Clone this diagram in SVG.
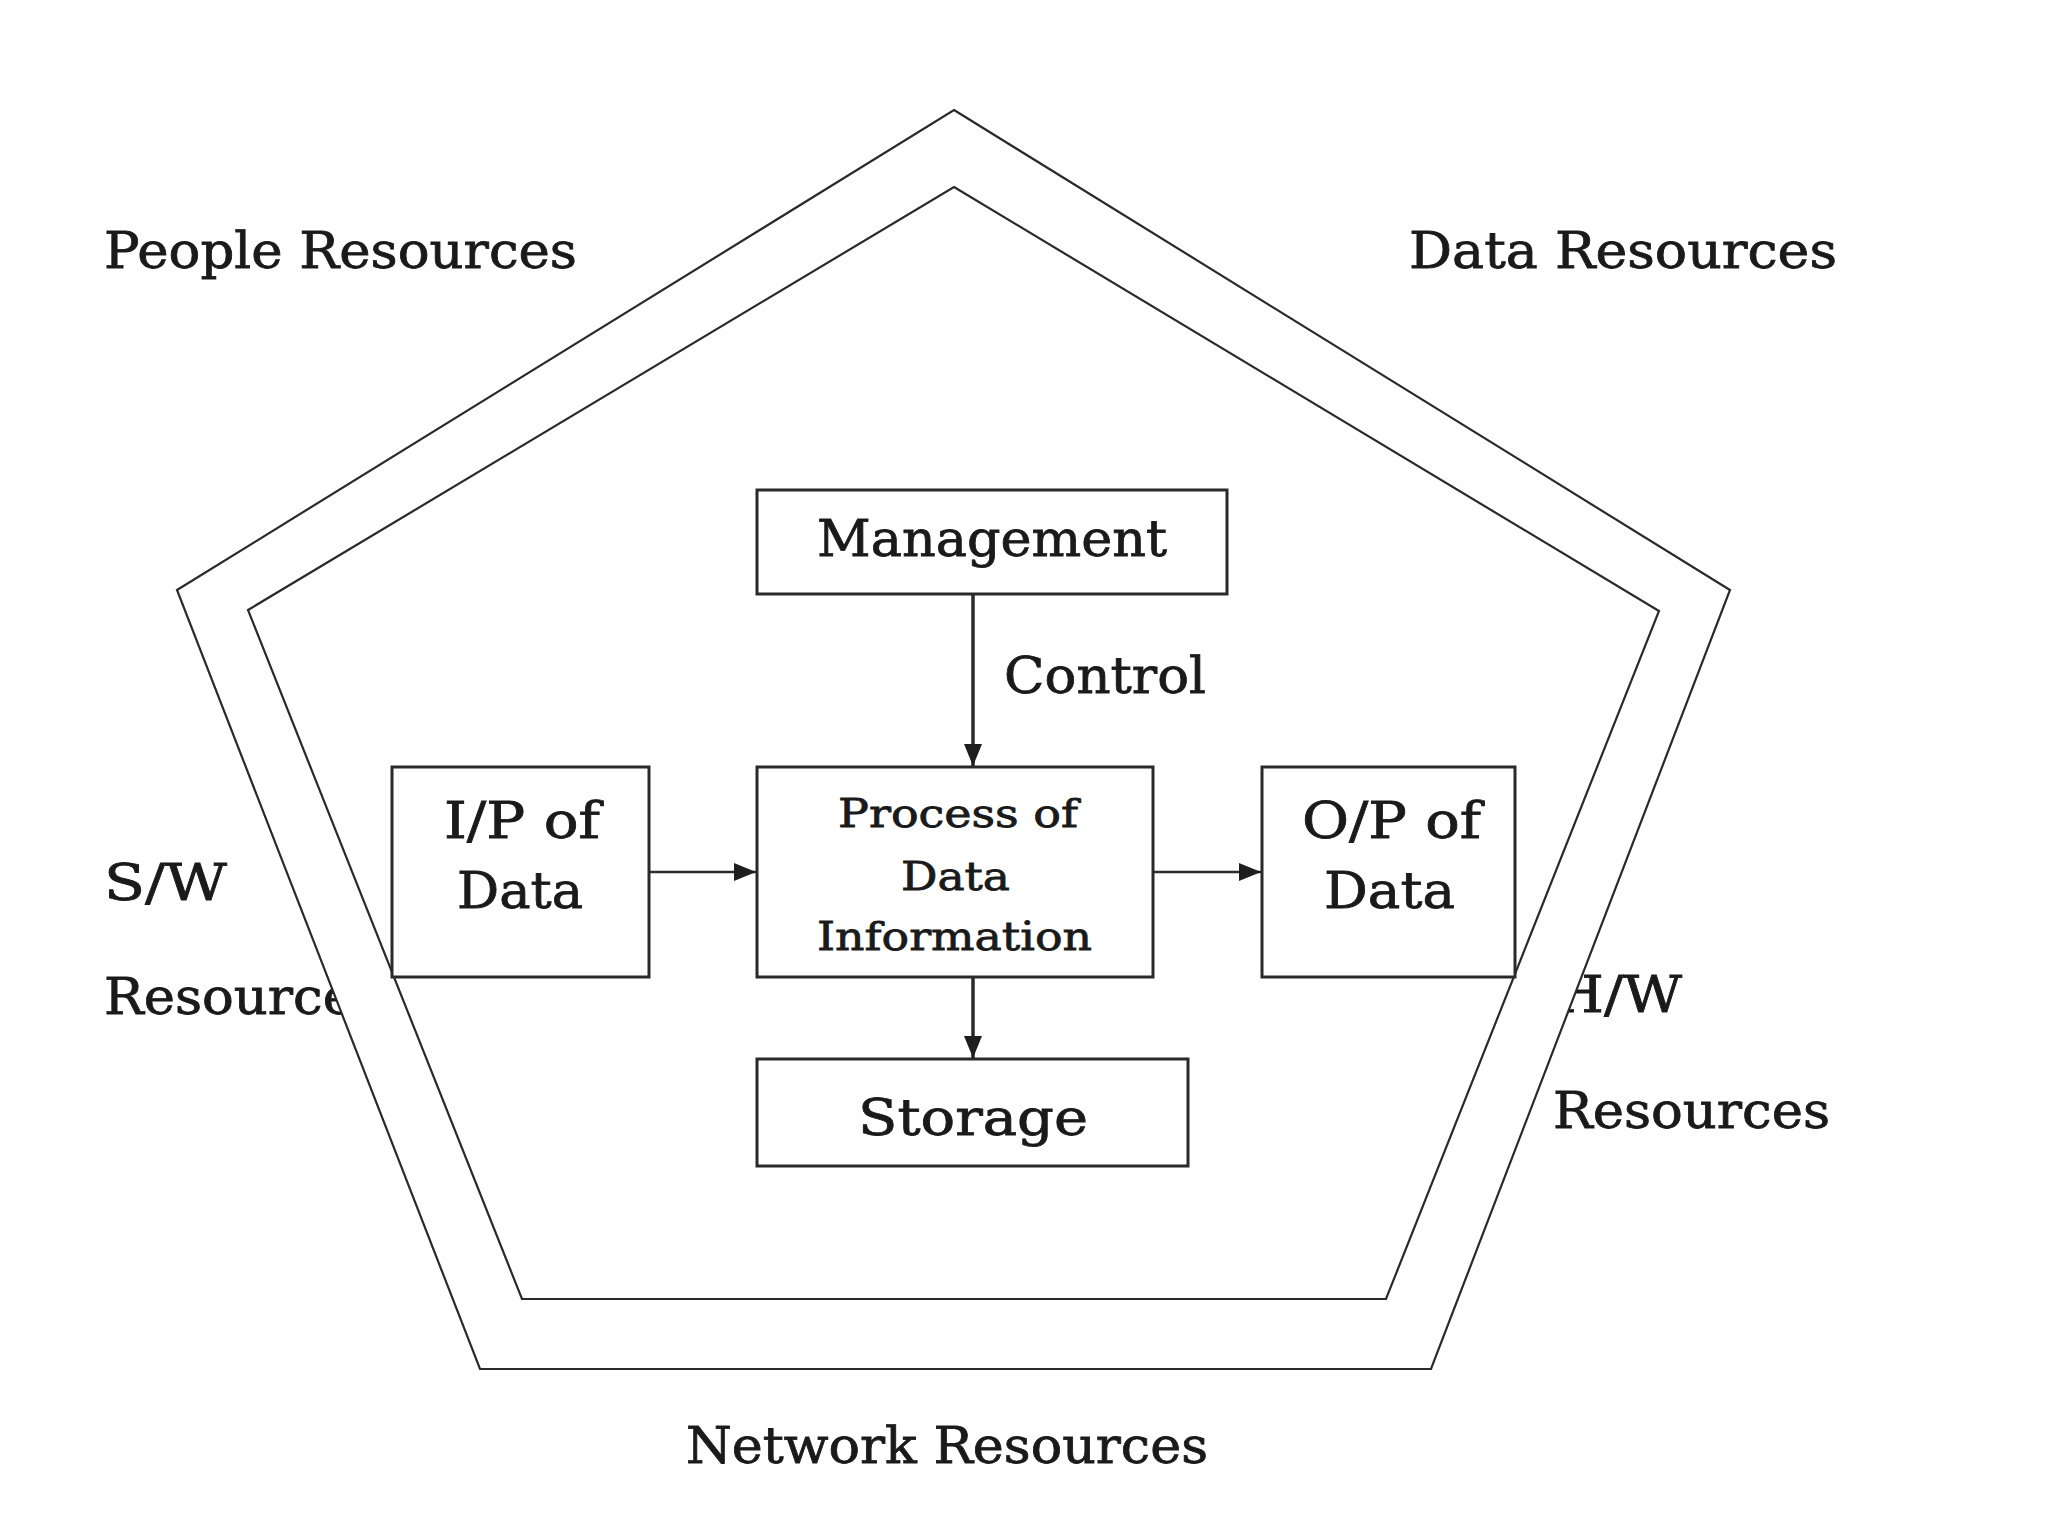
<svg xmlns="http://www.w3.org/2000/svg" width="2048" height="1536" viewBox="0 0 2048 1536">
<style>
text{font-family:"DejaVu Serif","Liberation Serif",serif;fill:#1a1a1a;stroke:#1a1a1a;stroke-width:0.8}
.big{font-size:50px}
.small{font-size:40px}
.pent{fill:#fff;stroke:#2a2a2a;stroke-width:2.2}
.box{fill:#fff;stroke:#2a2a2a;stroke-width:3}
.conn{fill:none;stroke:#2a2a2a;stroke-width:2.5}
.vconn{fill:none;stroke:#2a2a2a;stroke-width:3.5}
</style>
<defs>
<marker id="ah" markerUnits="userSpaceOnUse" markerWidth="22" markerHeight="18" viewBox="0 0 22 18" refX="22" refY="9" orient="auto">
<path d="M0,0 L22,9 L0,18 Z" fill="#1e1e1e"/>
</marker>
</defs>
<rect width="2048" height="1536" fill="#fff"/>

<g id="labels-outer">
<text class="big" x="104" y="268" textLength="473" lengthAdjust="spacingAndGlyphs">People Resources</text>
<text class="big" x="1409" y="268" textLength="428" lengthAdjust="spacingAndGlyphs">Data Resources</text>
<text class="big" x="104" y="900" textLength="123" lengthAdjust="spacingAndGlyphs">S/W</text>
<text class="big" x="104" y="1014" textLength="277" lengthAdjust="spacingAndGlyphs">Resources</text>
<text class="big" x="1554" y="1012" textLength="128" lengthAdjust="spacingAndGlyphs">H/W</text>
<text class="big" x="1553" y="1128" textLength="277" lengthAdjust="spacingAndGlyphs">Resources</text>
<text class="big" x="686" y="1463" textLength="522" lengthAdjust="spacingAndGlyphs">Network Resources</text>
</g>

<g id="outer-pentagon">
<polygon class="pent" points="954,110 1730,590 1431,1369 480,1369 177,590"/>
</g>
<g id="inner-pentagon">
<polygon class="pent" points="954,187 1659,611 1386,1299 522,1299 248,610"/>
</g>

<g id="connectors">
<line class="vconn" x1="973" y1="594" x2="973" y2="766" marker-end="url(#ah)"/>
<line class="conn" x1="649" y1="872" x2="756" y2="872" marker-end="url(#ah)"/>
<line class="conn" x1="1153" y1="872" x2="1261" y2="872" marker-end="url(#ah)"/>
<line class="vconn" x1="973" y1="977" x2="973" y2="1058" marker-end="url(#ah)"/>
<text class="big" x="1004" y="693" textLength="202" lengthAdjust="spacingAndGlyphs">Control</text>
</g>

<g id="management">
<rect class="box" x="757" y="490" width="470" height="104"/>
<text class="big" x="817" y="556" textLength="350" lengthAdjust="spacingAndGlyphs">Management</text>
</g>

<g id="input">
<rect class="box" x="392" y="767" width="257" height="210"/>
<text class="big" x="444" y="838" textLength="156" lengthAdjust="spacingAndGlyphs">I/P of</text>
<text class="big" x="457" y="908" textLength="126" lengthAdjust="spacingAndGlyphs">Data</text>
</g>

<g id="process">
<rect class="box" x="757" y="767" width="396" height="210"/>
<text class="small" x="838" y="827" textLength="240" lengthAdjust="spacingAndGlyphs">Process of</text>
<text class="small" x="901" y="890" textLength="109" lengthAdjust="spacingAndGlyphs">Data</text>
<text class="small" x="817" y="950" textLength="275" lengthAdjust="spacingAndGlyphs">Information</text>
</g>

<g id="output">
<rect class="box" x="1262" y="767" width="253" height="210"/>
<text class="big" x="1302" y="838" textLength="179" lengthAdjust="spacingAndGlyphs">O/P of</text>
<text class="big" x="1324" y="908" textLength="131" lengthAdjust="spacingAndGlyphs">Data</text>
</g>

<g id="storage">
<rect class="box" x="757" y="1059" width="431" height="107"/>
<text class="big" x="858" y="1135" textLength="230" lengthAdjust="spacingAndGlyphs">Storage</text>
</g>
</svg>
